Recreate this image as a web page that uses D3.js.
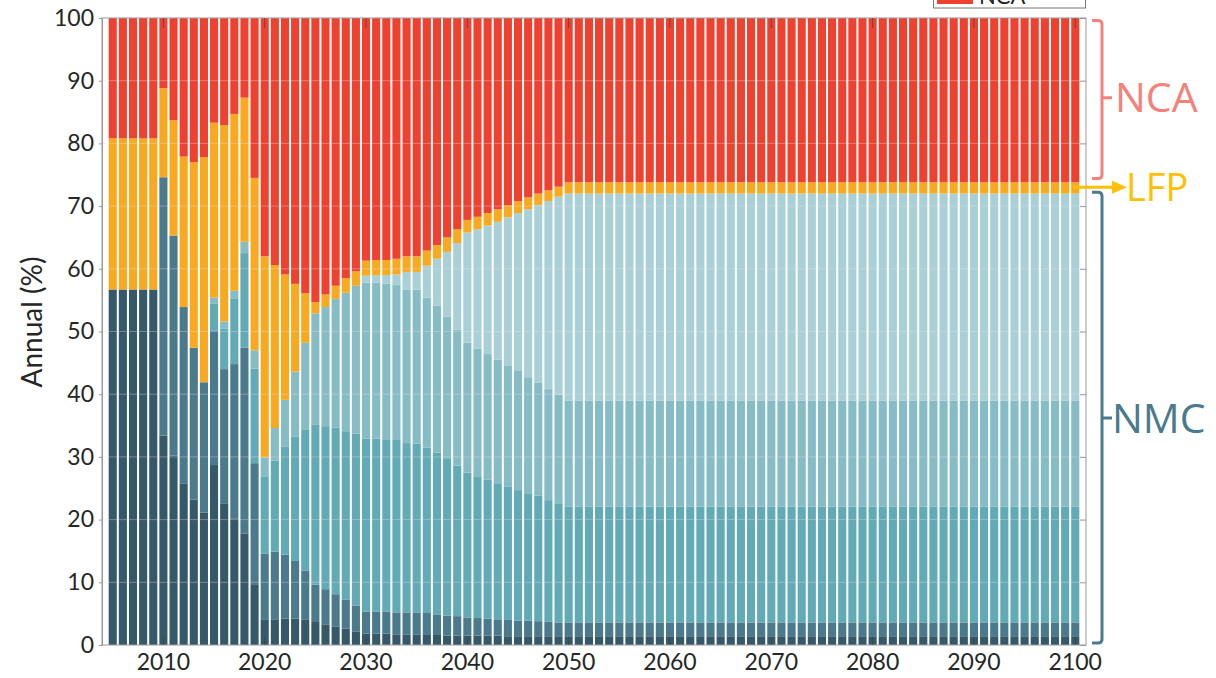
<!DOCTYPE html>
<html>
<head>
<meta charset="utf-8">
<script src="https://cdn.jsdelivr.net/npm/d3@7"></script>
<style>
  body { margin: 0; background: #fff; }
  svg { display: block; }
</style>
</head>
<body>
<div id="chart"></div>
<script>
// years 2005..2100, one bar each
var years = d3.range(2005, 2101);

// annual share (%) by cathode chemistry
var nmc111 = [
  56.7, 56.7, 56.7, 56.7, 56.7, 33.4, 30.2, 25.7, 23.2, 21.1,
  28.7, 22.6, 20.2, 17.8, 9.7, 4.0, 4.1, 4.2, 4.2, 4.1,
  3.8, 3.3, 2.9, 2.6, 2.1, 1.8, 1.8, 1.8, 1.7, 1.7,
  1.7, 1.6, 1.6, 1.5, 1.5, 1.5, 1.5, 1.5, 1.5, 1.4,
  1.4, 1.4, 1.4, 1.4, 1.4, 1.4, 1.4, 1.4, 1.4, 1.4,
  1.4, 1.4, 1.4, 1.4, 1.4, 1.4, 1.4, 1.4, 1.4, 1.4,
  1.4, 1.4, 1.4, 1.4, 1.4, 1.4, 1.4, 1.4, 1.4, 1.4,
  1.4, 1.4, 1.4, 1.4, 1.4, 1.4, 1.4, 1.4, 1.4, 1.4,
  1.4, 1.4, 1.4, 1.4, 1.4, 1.4, 1.4, 1.4, 1.4, 1.4,
  1.4, 1.4, 1.4, 1.4, 1.4, 1.4
];
var nmc532 = [
  0, 0, 0, 0, 0, 41.2, 35.1, 28.2, 24.2, 20.8,
  21.4, 21.4, 24.6, 29.6, 19.3, 10.6, 10.8, 10.2, 9.2, 7.8,
  5.8, 5.6, 5.2, 4.6, 4.2, 3.5, 3.5, 3.5, 3.5, 3.5,
  3.5, 3.5, 3.2, 3.2, 3.1, 2.9, 2.8, 2.7, 2.6, 2.6,
  2.5, 2.5, 2.4, 2.3, 2.2, 2.2, 2.2, 2.2, 2.2, 2.2,
  2.2, 2.2, 2.2, 2.2, 2.2, 2.2, 2.2, 2.2, 2.2, 2.2,
  2.2, 2.2, 2.2, 2.2, 2.2, 2.2, 2.2, 2.2, 2.2, 2.2,
  2.2, 2.2, 2.2, 2.2, 2.2, 2.2, 2.2, 2.2, 2.2, 2.2,
  2.2, 2.2, 2.2, 2.2, 2.2, 2.2, 2.2, 2.2, 2.2, 2.2,
  2.2, 2.2, 2.2, 2.2, 2.2, 2.2
];
var nmc622 = [
  0, 0, 0, 0, 0, 0, 0, 0, 0, 0,
  4.3, 6.5, 10.4, 15.1, 15.1, 12.2, 14.5, 17.2, 19.8, 22.5,
  25.6, 26.0, 26.6, 26.9, 27.4, 27.6, 27.6, 27.4, 27.5, 27.0,
  26.9, 26.4, 25.9, 25.1, 24.0, 23.1, 22.5, 22.2, 21.7, 21.3,
  20.8, 20.3, 20.0, 19.4, 19.0, 18.5, 18.5, 18.5, 18.5, 18.5,
  18.5, 18.5, 18.5, 18.5, 18.5, 18.5, 18.5, 18.5, 18.5, 18.5,
  18.5, 18.5, 18.5, 18.5, 18.5, 18.5, 18.5, 18.5, 18.5, 18.5,
  18.5, 18.5, 18.5, 18.5, 18.5, 18.5, 18.5, 18.5, 18.5, 18.5,
  18.5, 18.5, 18.5, 18.5, 18.5, 18.5, 18.5, 18.5, 18.5, 18.5,
  18.5, 18.5, 18.5, 18.5, 18.5, 18.5
];
var nmc811 = [
  0, 0, 0, 0, 0, 0, 0, 0, 0, 0,
  1.0, 1.1, 1.3, 1.8, 2.9, 3.1, 5.2, 7.5, 10.4, 13.8,
  17.7, 19.0, 20.5, 22.1, 23.6, 24.9, 24.9, 24.9, 24.7, 24.5,
  24.6, 23.9, 23.4, 22.6, 21.7, 20.7, 20.5, 20.0, 19.7, 19.3,
  19.0, 18.5, 18.0, 17.7, 17.3, 16.9, 16.9, 16.9, 16.9, 16.9,
  16.9, 16.9, 16.9, 16.9, 16.9, 16.9, 16.9, 16.9, 16.9, 16.9,
  16.9, 16.9, 16.9, 16.9, 16.9, 16.9, 16.9, 16.9, 16.9, 16.9,
  16.9, 16.9, 16.9, 16.9, 16.9, 16.9, 16.9, 16.9, 16.9, 16.9,
  16.9, 16.9, 16.9, 16.9, 16.9, 16.9, 16.9, 16.9, 16.9, 16.9,
  16.9, 16.9, 16.9, 16.9, 16.9, 16.9
];
var nmc955 = [
  0, 0, 0, 0, 0, 0, 0, 0, 0, 0,
  0, 0, 0, 0, 0, 0, 0, 0, 0, 0,
  0, 0, 0, 0, 0, 1.1, 1.2, 1.4, 1.7, 2.8,
  2.8, 5.1, 7.5, 10.3, 13.8, 17.6, 19.0, 20.5, 22.0, 23.6,
  25.2, 26.8, 28.4, 30.0, 31.6, 33.0, 33.0, 33.0, 33.0, 33.0,
  33.0, 33.0, 33.0, 33.0, 33.0, 33.0, 33.0, 33.0, 33.0, 33.0,
  33.0, 33.0, 33.0, 33.0, 33.0, 33.0, 33.0, 33.0, 33.0, 33.0,
  33.0, 33.0, 33.0, 33.0, 33.0, 33.0, 33.0, 33.0, 33.0, 33.0,
  33.0, 33.0, 33.0, 33.0, 33.0, 33.0, 33.0, 33.0, 33.0, 33.0,
  33.0, 33.0, 33.0, 33.0, 33.0, 33.0
];
var lfp = [
  24.1, 24.1, 24.1, 24.1, 24.1, 14.2, 18.4, 24.0, 29.6, 35.9,
  27.9, 31.3, 28.2, 23.0, 27.5, 32.1, 26.0, 20.0, 14.0, 7.9,
  1.8, 2.0, 2.1, 2.3, 2.3, 2.4, 2.4, 2.4, 2.5, 2.5,
  2.5, 2.4, 2.2, 2.3, 2.2, 2.0, 2.0, 2.0, 2.0, 1.9,
  1.9, 1.9, 1.8, 1.7, 1.6, 1.8, 1.8, 1.8, 1.8, 1.8,
  1.8, 1.8, 1.8, 1.8, 1.8, 1.8, 1.8, 1.8, 1.8, 1.8,
  1.8, 1.8, 1.8, 1.8, 1.8, 1.8, 1.8, 1.8, 1.8, 1.8,
  1.8, 1.8, 1.8, 1.8, 1.8, 1.8, 1.8, 1.8, 1.8, 1.8,
  1.8, 1.8, 1.8, 1.8, 1.8, 1.8, 1.8, 1.8, 1.8, 1.8,
  1.8, 1.8, 1.8, 1.8, 1.8, 1.8
];
var nca = [
  19.2, 19.2, 19.2, 19.2, 19.2, 11.2, 16.3, 22.1, 23.0, 22.2,
  16.7, 17.1, 15.3, 12.7, 25.5, 38.0, 39.4, 40.9, 42.4, 43.9,
  45.3, 44.1, 42.7, 41.5, 40.4, 38.7, 38.6, 38.6, 38.4, 38.0,
  38.0, 37.1, 36.2, 35.0, 33.7, 32.2, 31.7, 31.1, 30.5, 29.9,
  29.2, 28.6, 28.0, 27.5, 26.9, 26.2, 26.2, 26.2, 26.2, 26.2,
  26.2, 26.2, 26.2, 26.2, 26.2, 26.2, 26.2, 26.2, 26.2, 26.2,
  26.2, 26.2, 26.2, 26.2, 26.2, 26.2, 26.2, 26.2, 26.2, 26.2,
  26.2, 26.2, 26.2, 26.2, 26.2, 26.2, 26.2, 26.2, 26.2, 26.2,
  26.2, 26.2, 26.2, 26.2, 26.2, 26.2, 26.2, 26.2, 26.2, 26.2,
  26.2, 26.2, 26.2, 26.2, 26.2, 26.2
];

var seriesKeys = ['NMC111', 'NMC532', 'NMC622', 'NMC811', 'NMC955', 'LFP', 'NCA'];
var seriesColors = ['#36596a', '#4a7a8c', '#63aab7', '#86bcc6', '#a9d0d6', '#f8a91f', '#ee4130'];
var yTicks = d3.range(0, 101, 10);
var xTicks = d3.range(2010, 2101, 10);

var table = years.map(function (yr, i) {
  return {
    year: yr,
    NMC111: nmc111[i], NMC532: nmc532[i], NMC622: nmc622[i], NMC811: nmc811[i],
    NMC955: nmc955[i], LFP: lfp[i], NCA: nca[i]
  };
});

var W = 1216, H = 678;
var plotL = 102, plotR = 1086, plotT = 18, plotB = 645;

var svg = d3.select('#chart').append('svg')
  .attr('width', W)
  .attr('height', H);

var x = d3.scaleBand()
  .domain(years)
  .range([plotL, plotR])
  .paddingInner(0.2)
  .paddingOuter(0.66);

var y = d3.scaleLinear()
  .domain([0, 100])
  .range([plotB, plotT]);

var color = d3.scaleOrdinal().domain(seriesKeys).range(seriesColors);

var stacked = d3.stack().keys(seriesKeys)(table);

// bars
svg.append('g')
  .selectAll('g')
  .data(stacked)
  .enter().append('g')
  .attr('fill', function (d) { return color(d.key); })
  .selectAll('rect')
  .data(function (d) { return d; })
  .enter().append('rect')
  .attr('x', function (d) { return x(d.data.year); })
  .attr('y', function (d) { return y(Math.min(100, d[1])); })
  .attr('width', x.bandwidth())
  .attr('height', function (d) { return Math.max(0, y(d[0]) - y(Math.min(100, d[1]))); });

// faint grid lines showing through the bars
svg.append('g')
  .selectAll('line')
  .data(yTicks.slice(1, -1))
  .enter().append('line')
  .attr('x1', plotL).attr('x2', plotR)
  .attr('y1', function (d) { return y(d); })
  .attr('y2', function (d) { return y(d); })
  .attr('stroke', '#e6e6e6')
  .attr('stroke-opacity', 0.35);

// frame
svg.append('rect')
  .attr('x', plotL).attr('y', plotT)
  .attr('width', plotR - plotL).attr('height', plotB - plotT)
  .attr('fill', 'none')
  .attr('stroke', '#9a9a9a')
  .attr('stroke-width', 1);

// left axis
var yAxis = svg.append('g')
  .attr('transform', 'translate(' + plotL + ',0)')
  .call(d3.axisLeft(y).tickValues(yTicks).tickSize(3).tickPadding(5));
yAxis.select('.domain').attr('stroke', '#9a9a9a');
yAxis.selectAll('.tick line').attr('stroke', '#9a9a9a');
yAxis.selectAll('text')
  .attr('fill', '#262626')
  .style('font-family', 'Lato, sans-serif')
  .style('font-size', '23px');

// right inside ticks
svg.append('g')
  .attr('transform', 'translate(' + plotR + ',0)')
  .call(d3.axisLeft(y).tickValues(yTicks).tickSize(6).tickFormat(''))
  .call(function (g) {
    g.select('.domain').remove();
    g.selectAll('.tick line').attr('stroke', '#9a9a9a');
  });

// bottom axis labels
var xAxis = svg.append('g')
  .attr('transform', 'translate(0,' + plotB + ')')
  .call(d3.axisBottom(x).tickValues(xTicks).tickSize(0).tickPadding(9));
xAxis.select('.domain').remove();
xAxis.selectAll('text')
  .attr('fill', '#262626')
  .style('font-family', 'Lato, sans-serif')
  .style('font-size', '23px');

// decade ticks pointing into the plot, bottom and top
svg.append('g')
  .selectAll('line')
  .data(xTicks)
  .enter().append('line')
  .attr('x1', function (d) { return x(d) + x.bandwidth() / 2; })
  .attr('x2', function (d) { return x(d) + x.bandwidth() / 2; })
  .attr('y1', plotB).attr('y2', plotB - 8)
  .attr('stroke', '#3a3a3a').attr('stroke-opacity', 0.6);

svg.append('g')
  .selectAll('line')
  .data(xTicks)
  .enter().append('line')
  .attr('x1', function (d) { return x(d) + x.bandwidth() / 2; })
  .attr('x2', function (d) { return x(d) + x.bandwidth() / 2; })
  .attr('y1', plotT).attr('y2', plotT + 10)
  .attr('stroke', '#3a3a3a').attr('stroke-opacity', 0.6);

// y label
svg.append('text')
  .attr('transform', 'translate(42,' + 322 + ') rotate(-90)')
  .attr('text-anchor', 'middle')
  .attr('fill', '#262626')
  .style('font-family', 'Lato, sans-serif')
  .style('font-size', '28px')
  .text('Annual (%)');

// legend box, mostly cut off at the top
svg.append('rect')
  .attr('x', 933.5).attr('y', -30)
  .attr('width', 152).attr('height', 38)
  .attr('fill', '#fff')
  .attr('stroke', '#777');
svg.append('rect')
  .attr('x', 937).attr('y', -20)
  .attr('width', 36).attr('height', 24)
  .attr('fill', color('NCA'));
svg.append('text')
  .attr('x', 979).attr('y', 4)
  .attr('fill', '#222')
  .style('font-family', 'Lato, sans-serif')
  .style('font-size', '22px')
  .text('NCA');

// side annotations
function bracket(y0, y1, ym, col) {
  var bx = 1102, r = 4;
  var p = 'M' + (bx - 10) + ',' + y0 + ' L' + (bx - r) + ',' + y0 +
    ' Q' + bx + ',' + y0 + ' ' + bx + ',' + (y0 + r) +
    ' L' + bx + ',' + (y1 - r) +
    ' Q' + bx + ',' + y1 + ' ' + (bx - r) + ',' + y1 +
    ' L' + (bx - 10) + ',' + y1 +
    ' M' + bx + ',' + ym + ' L' + (bx + 10) + ',' + ym;
  svg.append('path')
    .attr('d', p)
    .attr('fill', 'none')
    .attr('stroke', col)
    .attr('stroke-width', 3);
}

var ncaCol = '#f4827a', lfpCol = '#ffc000', nmcCol = '#4a7a8c';
bracket(y(99.6), y(74.4), y(87.3), ncaCol);
bracket(y(72.2), y(0.3), y(36.2), nmcCol);

svg.append('text')
  .attr('x', 1115).attr('y', y(87.3))
  .attr('dy', '0.36em')
  .attr('fill', ncaCol)
  .style('font-family', '"Open Sans", sans-serif')
  .style('font-size', '41px')
  .text('NCA');

svg.append('text')
  .attr('x', 1112).attr('y', y(36.2))
  .attr('dy', '0.36em')
  .attr('fill', nmcCol)
  .style('font-family', '"Open Sans", sans-serif')
  .style('font-size', '41px')
  .text('NMC');

var ay = y(73.0);
svg.append('line')
  .attr('x1', 1073).attr('x2', 1114)
  .attr('y1', ay).attr('y2', ay)
  .attr('stroke', lfpCol).attr('stroke-width', 3);
svg.append('path')
  .attr('d', 'M1112,' + (ay - 6.5) + ' L1127,' + ay + ' L1112,' + (ay + 6.5) + ' Z')
  .attr('fill', lfpCol);
svg.append('text')
  .attr('x', 1126).attr('y', ay)
  .attr('dy', '0.36em')
  .attr('fill', lfpCol)
  .style('font-family', '"Open Sans", sans-serif')
  .style('font-size', '38px')
  .text('LFP');
</script>
</body>
</html>
